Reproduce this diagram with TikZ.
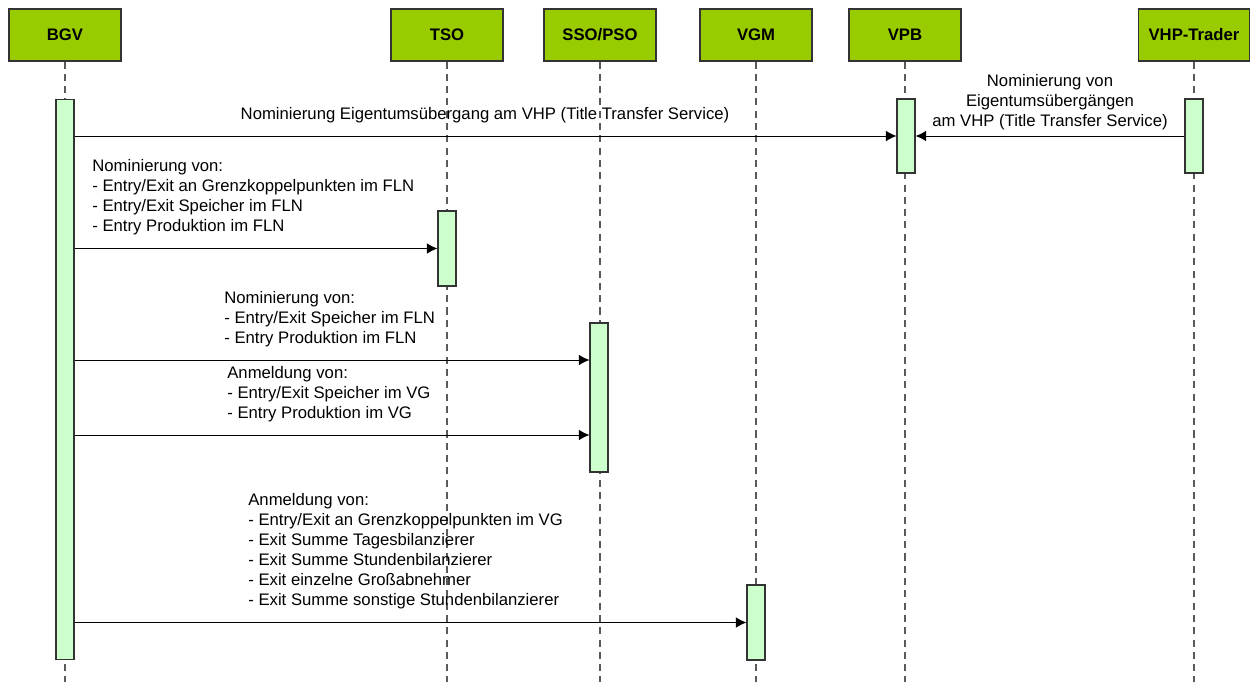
\documentclass[tikz,border=0pt]{standalone}
\usepackage{fontspec}
\setmainfont{Liberation Sans}
\usepackage{tikz}
\usetikzlibrary{arrows.meta}
\definecolor{Head-Green}{RGB}{153,204,0}
\definecolor{Act-Green}{RGB}{204,255,204}
\definecolor{Life-Gray}{RGB}{90,90,90}
\tikzset{ head/.style={draw=black!80, fill=Head-Green, line width=0.6pt, minimum width=2.24cm, minimum height=1.04cm, inner sep=0pt, font=\fontsize{9.5}{11}\selectfont\bfseries} }
\tikzset{ act/.style ={draw=black!80, fill=Act-Green,  line width=0.6pt, minimum width=0.36cm, inner sep=0pt} }
\tikzset{ life/.style={draw=Life-Gray, line width=0.6pt, dash pattern=on 4pt off 3pt} }
\tikzset{ msg/.style ={draw=black, line width=0.5pt, -{Latex[length=6pt,width=6pt]}} }
\tikzset{ lbl/.style ={inner sep=0pt, font=\fontsize{9.5}{11.4}\selectfont} }

\begin{document}
\begin{tikzpicture}[x=0.02cm, y=-0.02cm]
    \useasboundingbox (0,0) rectangle (1250,682);

    \coordinate (bot) at (0,682);

    \node[head] (hd_bgv) at (  65, 35) {BGV};
    \node[head] (hd_tso) at ( 447, 35) {TSO};
    \node[head] (hd_sso) at ( 600, 35) {SSO/PSO};
    \node[head] (hd_vgm) at ( 756, 35) {VGM};
    \node[head] (hd_vpb) at ( 905, 35) {VPB};
    \node[head] (hd_trd) at (1194, 35) {VHP-Trader};

    \draw[life] (hd_bgv.south) -- (hd_bgv |- bot);
    \draw[life] (hd_tso.south) -- (hd_tso |- bot);
    \draw[life] (hd_sso.south) -- (hd_sso |- bot);
    \draw[life] (hd_vgm.south) -- (hd_vgm |- bot);
    \draw[life] (hd_vpb.south) -- (hd_vpb |- bot);
    \draw[life] (hd_trd.south) -- (hd_trd |- bot);

    \node[act, minimum height=11.22cm] (act_bgv) at (  65, 379.5) {};
    \node[act, minimum height=1.48cm ] (act_vpb) at ( 906, 136.0) {};
    \node[act, minimum height=1.48cm ] (act_trd) at (1194, 136.0) {};
    \node[act, minimum height=1.50cm ] (act_tso) at ( 447, 248.5) {};
    \node[act, minimum height=2.98cm ] (act_sso) at ( 599, 397.5) {};
    \node[act, minimum height=1.50cm ] (act_vgm) at ( 756, 622.5) {};

    \coordinate (m_sso1) at (0,360);
    \coordinate (m_sso2) at (0,435);

    \draw[msg] (act_bgv.east |- act_vpb) -- (act_vpb.west);
    \draw[msg] (act_trd.west) -- (act_vpb.east);
    \draw[msg] (act_bgv.east |- act_tso) -- (act_tso.west);
    \draw[msg] (act_bgv.east |- m_sso1) -- (act_sso.west |- m_sso1);
    \draw[msg] (act_bgv.east |- m_sso2) -- (act_sso.west |- m_sso2);
    \draw[msg] (act_bgv.east |- act_vgm) -- (act_vgm.west);

    \node[lbl] (t_vpb) at ( 485, 115) {Nominierung Eigentumsübergang am VHP (Title Transfer Service)};
    \node[lbl, align=center] (t_trd) at (1050, 102) {Nominierung von\\Eigentumsübergängen\\am VHP (Title Transfer Service)};
    \node[lbl, align=left, anchor=west] (t_tso) at ( 92, 197) {Nominierung von:\\- Entry/Exit an Grenzkoppelpunkten im FLN\\- Entry/Exit Speicher im FLN\\- Entry Produktion im FLN};
    \node[lbl, align=left, anchor=west] (t_sso1) at (224, 319) {Nominierung von:\\- Entry/Exit Speicher im FLN\\- Entry Produktion im FLN};
    \node[lbl, align=left, anchor=west] (t_sso2) at (227, 394) {Anmeldung von:\\- Entry/Exit Speicher im VG\\- Entry Produktion im VG};
    \node[lbl, align=left, anchor=west] (t_vgm) at (248, 551) {Anmeldung von:\\- Entry/Exit an Grenzkoppelpunkten im VG\\- Exit Summe Tagesbilanzierer\\- Exit Summe Stundenbilanzierer\\- Exit einzelne Großabnehmer\\- Exit Summe sonstige Stundenbilanzierer};
\end{tikzpicture}
\end{document}
